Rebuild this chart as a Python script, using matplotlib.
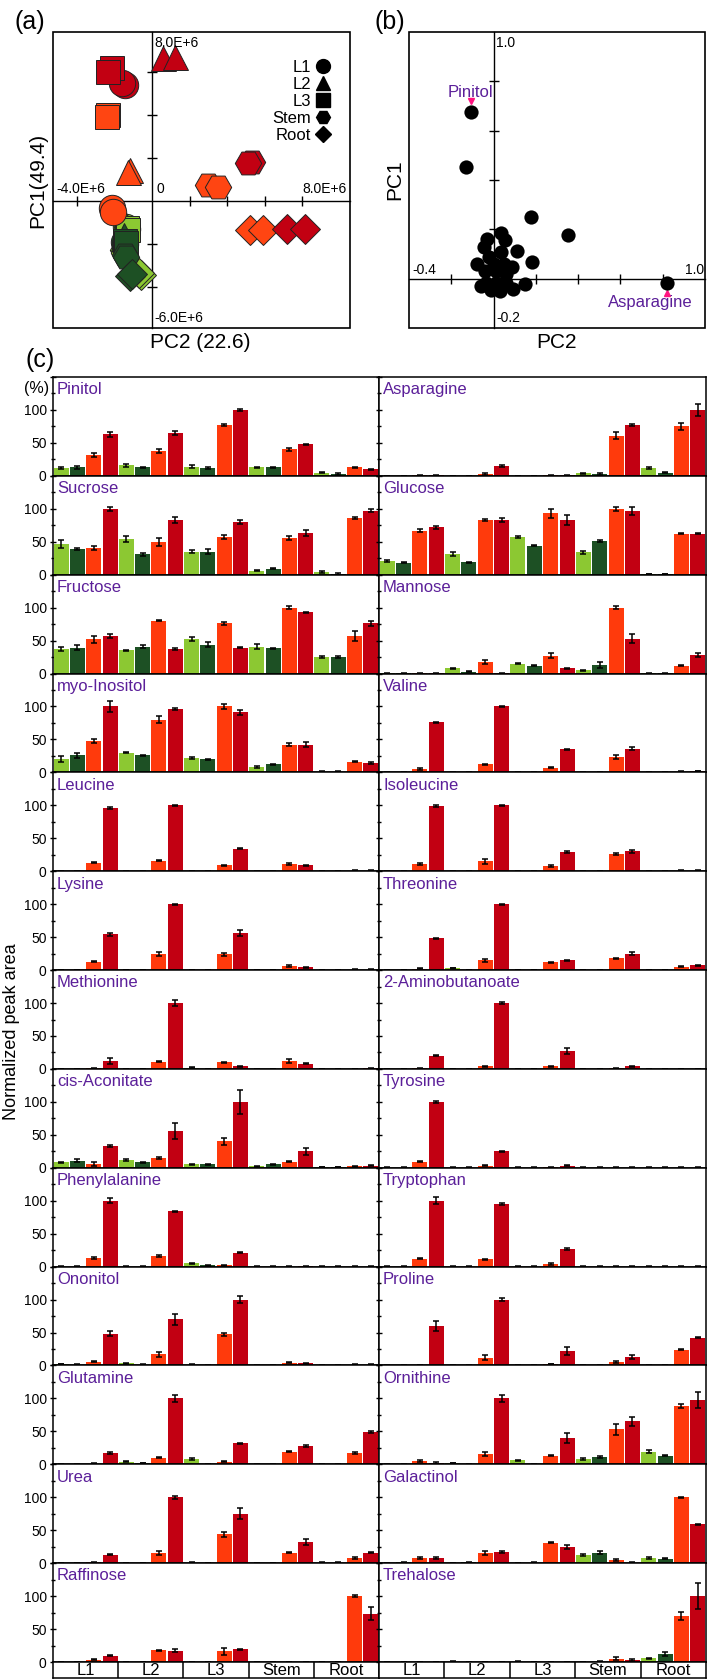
import matplotlib
matplotlib.use("Agg")
import numpy as np
import matplotlib.pyplot as plt
from matplotlib.lines import Line2D
from matplotlib.patches import Rectangle
from matplotlib.transforms import offset_copy, blended_transform_factory

plt.rcParams['font.family'] = ['Liberation Sans', 'DejaVu Sans']

# ------------------------------------------------------------------ data
tissues = ['L1', 'L2', 'L3', 'Stem', 'Root']
tissue_markers = ['o', '^', 's', 'H', 'D']
marker_sizes = [19, 18, 17, 19, 15]

# panel (a): PCA scores (units of 1E+6), two replicates per tissue
score_tissue = [0, 0, 1, 1, 2, 2, 3, 3, 4, 4]
pc2_darkred = [-1.44, -1.60, 0.59, 1.23, -2.13, -2.35, 5.33, 5.12, 7.20, 8.16]
pc1_darkred = [5.40, 5.49, 6.65, 6.70, 6.19, 6.00, 1.81, 1.77, -1.30, -1.30]
pc2_orange = [-2.13, -2.08, -1.17, -1.28, -2.35, -2.40, 2.99, 3.52, 5.23, 5.92]
pc1_orange = [-0.33, -0.51, 1.44, 1.35, 4.00, 3.90, 0.74, 0.65, -1.35, -1.35]
pc2_lightgreen = [-1.40, -1.35, -1.45, -1.40, -1.33, -1.30, -1.55, -1.50, -0.60, -0.70]
pc1_lightgreen = [-1.20, -1.30, -1.00, -1.10, -1.25, -1.35, -2.30, -2.40, -3.45, -3.35]
pc2_darkgreen = [-1.50, -1.45, -1.55, -1.50, -1.44, -1.40, -1.44, -1.40, -1.17, -1.05]
pc1_darkgreen = [-1.90, -2.00, -1.70, -1.60, -1.85, -1.95, -2.50, -2.60, -3.49, -3.40]

# panel (b): loadings
load_pc2 = [-0.108, -0.132, 0.177, 0.354, 0.033, -0.030, 0.056, -0.047, 0.033, 0.110,
            -0.023, -0.077, 0.088, 0.000, 0.047, 0.182, 0.010, -0.040, 0.060, -0.035,
            0.012, 0.060, 0.150, -0.010, 0.030, 0.090, -0.060, 0.820]
load_pc1 = [0.674, 0.454, 0.250, 0.178, 0.187, 0.162, 0.155, 0.128, 0.107, 0.114,
            0.087, 0.060, 0.046, 0.060, 0.060, 0.067, 0.030, 0.030, 0.020, -0.016,
            -0.016, -0.016, -0.020, -0.045, -0.050, -0.040, -0.030, -0.016]
pinitol_idx = 0
asparagine_idx = 27

# panel (c): normalized peak areas, order per tissue: light green, dark green, orange, dark red
pinitol = [12, 13, 31, 63, 16, 13, 38, 65, 14, 12, 77, 100, 13, 13, 40, 48, 5, 3, 13, 10]
pinitol_err = [2, 2, 3, 4, 2, 1, 3, 3, 2, 1, 2, 1, 1, 1, 2, 1, 1, 1, 1, 1]
asparagine = [0, 0, 1, 1, 0, 0, 3, 15, 0, 0, 1, 1, 4, 3, 61, 77, 12, 5, 75, 100]
asparagine_err = [.5, .5, .5, .5, .5, .5, 1, 1, .5, .5, .5, .5, 1, 1, 5, 2, 1, 1, 5, 9]
sucrose = [47, 39, 41, 100, 54, 31, 49, 83, 35, 35, 57, 80, 6, 9, 55, 63, 4, 1, 86, 97]
sucrose_err = [6, 2, 3, 3, 4, 2, 6, 5, 2, 4, 3, 3, 1, 1, 3, 5, 1, 1, 2, 2]
glucose = [21, 18, 67, 72, 32, 19, 83, 83, 57, 44, 93, 83, 34, 51, 99, 97, 1, 1, 62, 62]
glucose_err = [2, 1, 2, 2, 3, 1, 2, 3, 1, 1, 7, 7, 2, 2, 3, 6, .5, .5, 1, 1]
fructose = [37, 39, 52, 57, 35, 41, 80, 37, 53, 44, 76, 39, 41, 38, 100, 93, 25, 25, 57, 76]
fructose_err = [3, 4, 5, 3, 1, 2, 1, 1, 3, 4, 2, 1, 4, 1, 2, 1, 1, 1, 8, 4]
mannose = [.5, .5, .5, .5, 8, 3, 17, .5, 15, 12, 27, 8, 5, 13, 100, 53, .5, .5, 12, 28]
mannose_err = [.5, .5, .5, .5, 1, 1, 3, .5, 1, 1, 4, 1, 1, 5, 2, 7, .5, .5, 1, 3]
myo_inositol = [20, 26, 47, 100, 30, 26, 80, 96, 22, 20, 100, 91, 8, 12, 42, 42, 1, 1, 16, 14]
myo_inositol_err = [5, 4, 3, 8, 1, 1, 5, 1, 1, 1, 4, 4, 1, 1, 2, 4, .5, .5, 1, 1]
valine = [0, 0, 5, 76, 0, 0, 12, 100, 0, 0, 7, 35, 0, 0, 23, 36, 0, 0, 1, 2]
valine_err = [.5, .5, 1, 1, .5, .5, 1, 1, .5, .5, 1, 1, .5, .5, 3, 2, .5, .5, .5, .5]
leucine = [0, 0, 13, 96, 0, 0, 16, 100, 0, 0, 9, 34, 0, 0, 11, 9, 0, 0, 1, 1]
leucine_err = [.5, .5, 1, 2, .5, .5, 1, 1, .5, .5, 1, 1, .5, .5, 1, 1, .5, .5, .5, .5]
isoleucine = [0, 0, 11, 99, 0, 0, 15, 100, 0, 0, 8, 29, 0, 0, 26, 30, 0, 0, 1, 1]
isoleucine_err = [.5, .5, 1, 1, .5, .5, 4, 1, .5, .5, 1, 2, .5, .5, 1, 2, .5, .5, .5, .5]
lysine = [0, 0, 13, 54, 0, 0, 24, 100, 0, 0, 24, 56, 0, 0, 6, 4, 0, 0, .5, .5]
lysine_err = [.5, .5, 1, 2, .5, .5, 3, 1, .5, .5, 2, 5, .5, .5, 1, 1, .5, .5, .5, .5]
threonine = [0, 0, 2, 48, 3, 0, 15, 100, 0, 0, 12, 15, 0, 0, 18, 25, 0, 0, 5, 7]
threonine_err = [.5, .5, .5, 1, .5, .5, 2, 1, .5, .5, 1, 1, .5, .5, 1, 2, .5, .5, 1, 1]
methionine = [0, 0, 1, 12, 0, 0, 11, 100, 2, 0, 10, 4, 0, 0, 12, 8, 0, 0, 0, 1]
methionine_err = [.5, .5, .5, 4, .5, .5, 1, 5, .5, .5, 1, 1, .5, .5, 3, 1, .5, .5, .5, .5]
aminobutanoate = [0, 0, 1, 20, 0, 0, 4, 100, 0, 0, 4, 27, 0, 0, 1, 4, 0, 0, 0, 0]
aminobutanoate_err = [.5, .5, .5, 1, .5, .5, 1, 1, .5, .5, 1, 4, .5, .5, .5, 1, .5, .5, .5, .5]
cis_aconitate = [8, 11, 6, 33, 12, 8, 15, 56, 5, 5, 40, 100, 2, 5, 9, 25, 1, 1, 2, 3]
cis_aconitate_err = [1, 2, 3, 2, 2, 1, 1, 12, 1, 1, 5, 18, 1, 1, 1, 5, .5, .5, .5, .5]
tyrosine = [0, 0, 9, 100, 0, 0, 3, 25, 0, 0, .5, 3, 0, 0, 0, 0, 0, 0, 0, 0]
tyrosine_err = [.5, .5, 1, 2, .5, .5, .5, 1, .5, .5, .5, .5, .5, .5, .5, .5, .5, .5, .5, .5]
phenylalanine = [0, 0, 13, 100, 0, 0, 16, 84, 5, 2, 2, 21, 0, 0, 0, .5, 0, 0, 0, 0]
phenylalanine_err = [.5, .5, 1, 4, .5, .5, 1, 1, 1, .5, .5, 1, .5, .5, .5, .5, .5, .5, .5, .5]
tryptophan = [0, 0, 12, 100, 0, 0, 11, 95, 0, 0, 4, 27, 0, 0, 0, 0, 0, 0, 0, 0]
tryptophan_err = [.5, .5, 1, 5, .5, .5, 1, 2, .5, .5, 1, 2, .5, .5, .5, .5, .5, .5, .5, .5]
ononitol = [2, 1, 6, 48, 3, 1, 17, 70, 1, 0, 47, 100, 0, 0, 4, 3, 0, 0, 1, 1]
ononitol_err = [.5, .5, 1, 4, .5, .5, 4, 8, .5, .5, 3, 5, .5, .5, 1, 1, .5, .5, .5, .5]
proline = [0, 0, .5, 60, 0, 0, 12, 100, 0, 0, 2, 22, 0, 0, 5, 13, 0, 0, 24, 42]
proline_err = [.5, .5, .5, 7, .5, .5, 4, 2, .5, .5, .5, 6, .5, .5, 2, 3, .5, .5, 1, 1]
glutamine = [0, 0, 1, 17, 4, 2, 10, 100, 8, 0, 4, 32, 0, 0, 19, 28, 0, 0, 17, 49]
glutamine_err = [.5, .5, .5, 1, 1, .5, 1, 5, 1, .5, 1, 1, .5, .5, 1, 1, .5, .5, 2, 2]
ornithine = [0, 0, 5, 2, 2, 0, 15, 100, 6, 0, 13, 40, 8, 11, 53, 65, 19, 13, 88, 98]
ornithine_err = [.5, .5, 1, 1, .5, .5, 3, 5, 1, .5, 1, 8, 1, 1, 8, 7, 2, 1, 3, 12]
urea = [0, 0, 1, 13, 0, 0, 16, 100, .5, 0, 44, 75, 0, 0, 16, 32, .5, .5, 8, 16]
urea_err = [.5, .5, .5, 1, .5, .5, 3, 2, .5, .5, 4, 8, .5, .5, 1, 4, .5, .5, 1, 1]
galactinol = [0, 1, 7.6, 7.6, 0, 1, 16, 17, 0, .5, 31, 25, 12.6, 16, 5, .5, 7.6, 7, 100, 59]
galactinol_err = [.5, .5, 1, 1, .5, .5, 3, 1, .5, .5, 1, 3, 2, 2, 1, .5, 2, 1, 1, 1]
raffinose = [0, 0, 3.5, 9.6, 0, 0, 17.7, 17, 0, 0, 16, 19, 0, 0, 0, 0, 0, 0, 100, 73]
raffinose_err = [.5, .5, .5, 1, .5, .5, 1, 2, .5, .5, 5, 1, .5, .5, .5, .5, .5, .5, 1, 10]
trehalose = [0, 0, 0, 0, .5, 0, 0, 0, .5, 0, 0, 0, 0, .5, 5, 3.5, 5.6, 12, 70, 100]
trehalose_err = [.5, .5, .5, .5, .5, .5, .5, .5, .5, .5, .5, .5, .5, .5, 2, 1.5, 1, 2.5, 6, 20]

left_names = ['Pinitol', 'Sucrose', 'Fructose', 'myo-Inositol', 'Leucine', 'Lysine',
              'Methionine', 'cis-Aconitate', 'Phenylalanine', 'Ononitol', 'Glutamine',
              'Urea', 'Raffinose']
left_vals = [pinitol, sucrose, fructose, myo_inositol, leucine, lysine, methionine,
             cis_aconitate, phenylalanine, ononitol, glutamine, urea, raffinose]
left_errs = [pinitol_err, sucrose_err, fructose_err, myo_inositol_err, leucine_err,
             lysine_err, methionine_err, cis_aconitate_err, phenylalanine_err,
             ononitol_err, glutamine_err, urea_err, raffinose_err]
right_names = ['Asparagine', 'Glucose', 'Mannose', 'Valine', 'Isoleucine', 'Threonine',
               '2-Aminobutanoate', 'Tyrosine', 'Tryptophan', 'Proline', 'Ornithine',
               'Galactinol', 'Trehalose']
right_vals = [asparagine, glucose, mannose, valine, isoleucine, threonine, aminobutanoate,
              tyrosine, tryptophan, proline, ornithine, galactinol, trehalose]
right_errs = [asparagine_err, glucose_err, mannose_err, valine_err, isoleucine_err,
              threonine_err, aminobutanoate_err, tyrosine_err, tryptophan_err,
              proline_err, ornithine_err, galactinol_err, trehalose_err]

# ------------------------------------------------------------------ style
LG, DG, OR, DR = '#8CC832', '#1D5024', '#FF3A0C', '#C20012'
PURPLE = '#5B1F99'
PINK = '#FF1480'
W, H = 709, 1680
fig = plt.figure(figsize=(W / 100, H / 100), dpi=100)


def box(x0, y0, x1, y1):
    return [x0 / W, 1 - y1 / H, (x1 - x0) / W, (y1 - y0) / H]


def cross_axes(ax):
    for s in ['top', 'right']:
        ax.spines[s].set_visible(False)
    ax.spines['left'].set_position(('data', 0))
    ax.spines['bottom'].set_position(('data', 0))
    for s in ['left', 'bottom']:
        ax.spines[s].set_linewidth(1.0)
    ax.add_patch(Rectangle((0, 0), 1, 1, transform=ax.transAxes, fill=False,
                           lw=1.2, ec='black', clip_on=False, zorder=5))
    ax.tick_params(direction='inout', length=7, width=1.0, labelleft=False,
                   labelbottom=False)


# ------------------------------------------------------------------ panel (a)
axa = fig.add_axes(box(53, 32, 350, 328))
axa.set_xlim((53 - 152) / 18.75, (350 - 152) / 18.75)
axa.set_ylim((201 - 328) / 21.5, (201 - 32) / 21.5)
cross_axes(axa)
axa.set_xticks([-4, -2, 2, 4, 6, 8])
axa.set_yticks([-4, -2, 2, 4, 6])

groups_a = [(pc2_lightgreen, pc1_lightgreen, LG), (pc2_darkgreen, pc1_darkgreen, DG),
            (pc2_orange, pc1_orange, '#FF4512'), (pc2_darkred, pc1_darkred, DR)]
for xs, ys, col in groups_a:
    for k in range(len(xs)):
        t = score_tissue[k]
        axa.plot(xs[k], ys[k], marker=tissue_markers[t], ms=marker_sizes[t],
                 mfc=col, mec='#222222', mew=0.7, ls='none', zorder=3)

handles = [Line2D([], [], marker=m, color='black', ls='none', ms=10 if m != 'D' else 8)
           for m in tissue_markers]
axa.legend(handles, tissues, markerfirst=False, frameon=False, loc='upper right',
           bbox_to_anchor=(0.975, 0.945), fontsize=12, handletextpad=0.2,
           labelspacing=0.12, borderpad=0.2, handlelength=1.0)

tb = blended_transform_factory(axa.transData, axa.transAxes)
axa.text(0.15, 0.985, '8.0E+6', transform=tb, ha='left', va='top', fontsize=10)
axa.text(-3.8, 0.25, '-4.0E+6', ha='center', va='bottom', fontsize=10)
axa.text(0.25, 0.25, '0', ha='left', va='bottom', fontsize=10)
axa.text(8.0, 0.25, '8.0E+6', ha='left', va='bottom', fontsize=10)
axa.text(0.15, 0.01, '-6.0E+6', transform=tb, ha='left', va='bottom', fontsize=10)

# ------------------------------------------------------------------ panel (b)
axb = fig.add_axes(box(409, 32, 705, 328))
axb.set_xlim(-0.4, 1.0)
axb.set_ylim(-0.2, 1.0)
cross_axes(axb)
axb.set_xticks([-0.2, 0.2, 0.4, 0.6, 0.8])
axb.set_yticks([0.2, 0.4, 0.6, 0.8])
axb.scatter(load_pc2, load_pc1, s=105, color='black', zorder=3, linewidths=0)

tbb = blended_transform_factory(axb.transData, axb.transAxes)
axb.text(0.012, 0.985, '1.0', transform=tbb, ha='left', va='top', fontsize=10)
axb.text(-0.385, 0.005, '-0.4', ha='left', va='bottom', fontsize=10)
axb.text(0.995, 0.005, '1.0', ha='right', va='bottom', fontsize=10)
axb.text(0.012, 0.01, '-0.2', transform=tbb, ha='left', va='bottom', fontsize=10)

px, py = load_pc2[pinitol_idx], load_pc1[pinitol_idx]
axb.plot(px, py, marker='v', color=PINK, ms=4,
         transform=offset_copy(axb.transData, fig=fig, y=11, units='dots'))
axb.annotate('Pinitol', (px, py), xytext=(0, 9), textcoords='offset points',
             ha='center', va='bottom', color=PURPLE, fontsize=12)
ax_, ay_ = load_pc2[asparagine_idx], load_pc1[asparagine_idx]
axb.plot(ax_, ay_, marker='^', color=PINK, ms=4,
         transform=offset_copy(axb.transData, fig=fig, y=-10, units='dots'))
axb.annotate('Asparagine', (ax_, ay_), xytext=(-12, -9), textcoords='offset points',
             ha='center', va='top', color=PURPLE, fontsize=12)

# ------------------------------------------------------------------ panel (c)
bar_colors = [LG, DG, OR, DR] * 5
xpos = np.arange(20)
row_top0, row_bot = 377, 1662
row_h = (row_bot - row_top0) / 13
columns = [((53, 379), left_names, left_vals, left_errs, True),
           ((379, 706), right_names, right_vals, right_errs, False)]
for (x0, x1), names, vals_l, errs_l, show_lab in columns:
    for r in range(13):
        y0 = row_top0 + r * row_h
        ax = fig.add_axes(box(x0, y0, x1, y0 + row_h))
        ax.bar(xpos, vals_l[r], width=0.92, color=bar_colors, zorder=2)
        ax.errorbar(xpos, vals_l[r], yerr=errs_l[r], fmt='none', ecolor='black',
                    elinewidth=1.1, capsize=2.0, capthick=1.1, zorder=3)
        ax.set_xlim(-0.5, 19.5)
        ax.set_ylim(0, 150)
        ax.set_xticks([])
        ax.set_yticks([0, 50, 100, 150])
        ax.set_yticks([25, 75, 125], minor=True)
        ax.set_yticklabels(['0', '50', '100', ''])
        ax.tick_params(axis='y', which='major', direction='inout', length=5, width=1.0,
                       labelsize=10, pad=2, labelleft=show_lab)
        ax.tick_params(axis='y', which='minor', direction='inout', length=3, width=1.0)
        for s in ax.spines.values():
            s.set_linewidth(1.1)
        ax.text(0.0125, 0.825, names[r], transform=ax.transAxes, ha='left',
                va='baseline', color=PURPLE, fontsize=12)
    # tissue strip
    axs = fig.add_axes(box(x0, row_bot, x1, 1678))
    axs.set_xlim(-0.5, 19.5)
    axs.set_ylim(0, 1)
    axs.set_xticks([])
    axs.set_yticks([])
    for s in axs.spines.values():
        s.set_linewidth(1.1)
    for g in range(1, 5):
        axs.axvline(4 * g - 0.5, color='black', lw=1.1)
    for g, t in enumerate(tissues):
        axs.text(4 * g + 1.5, 0.45, t, ha='center', va='center', fontsize=12)

# ------------------------------------------------------------------ labels
fig.text(30 / W, 1 - 22 / H, '(a)', fontsize=18, ha='center', va='center')
fig.text(390 / W, 1 - 22 / H, '(b)', fontsize=18, ha='center', va='center')
fig.text(40 / W, 1 - 360 / H, '(c)', fontsize=18, ha='center', va='center')
fig.text(38 / W, 1 - 180 / H, 'PC1(49.4)', rotation=90, fontsize=15, ha='center', va='center')
fig.text(200 / W, 1 - 343 / H, 'PC2 (22.6)', fontsize=15, ha='center', va='center')
fig.text(395 / W, 1 - 180 / H, 'PC1', rotation=90, fontsize=15, ha='center', va='center')
fig.text(557 / W, 1 - 343 / H, 'PC2', fontsize=15, ha='center', va='center')
fig.text(12 / W, 1 - 1032 / H, 'Normalized peak area', rotation=90, fontsize=13,
         ha='center', va='center')
fig.text(37 / W, 1 - 389 / H, '(%)', fontsize=11.5, ha='center', va='center')

fig.savefig('out.png', dpi=100)
